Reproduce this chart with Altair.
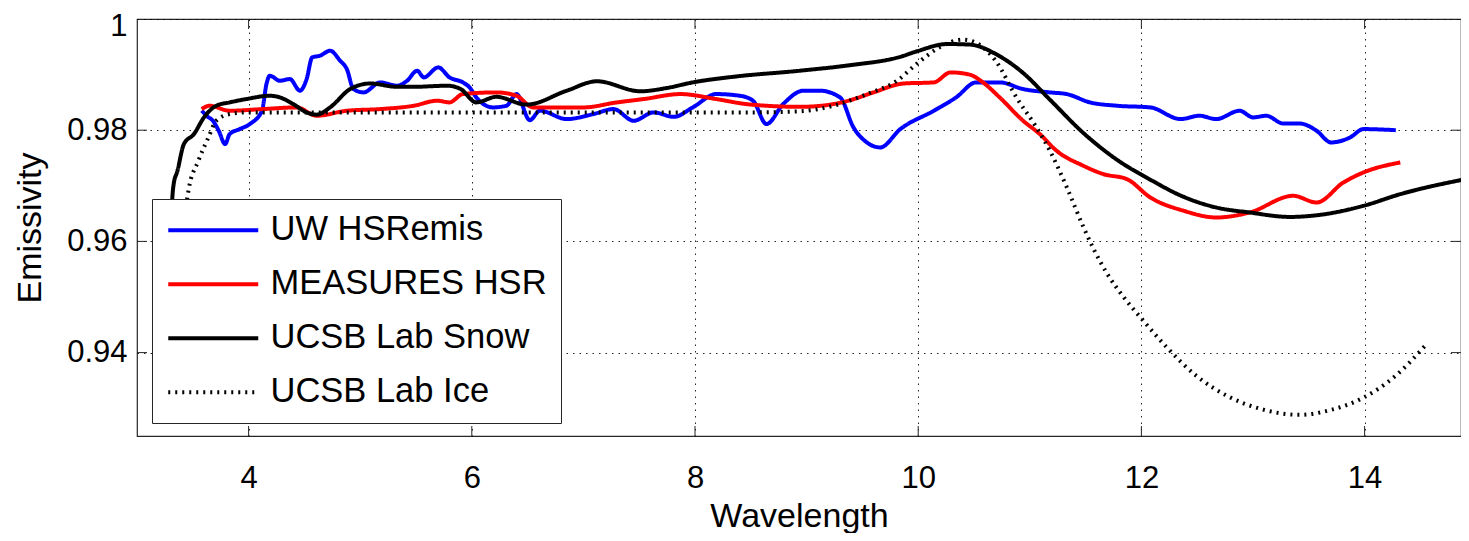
import altair as alt
import pandas as pd

series_names = ["UW HSRemis", "MEASURES HSR", "UCSB Lab Snow", "UCSB Lab Ice"]
series_colors = ["#0000ff", "#ff0000", "#000000", "#000000"]
series_dash = [[1, 0], [1, 0], [1, 0], [2, 5]]

uw_x = [3.58, 3.63, 3.68, 3.73, 3.79, 3.83, 3.92, 4.01, 4.12, 4.16, 4.19, 4.28, 4.37, 4.46, 4.52,
        4.57, 4.64, 4.73, 4.82, 4.88, 4.94, 5.03, 5.18, 5.33, 5.42, 5.51, 5.57, 5.70, 5.80, 5.92,
        5.98, 6.04, 6.19, 6.31, 6.40, 6.52, 6.61, 6.85, 7.09, 7.27, 7.45, 7.63, 7.81, 7.98, 8.19,
        8.40, 8.52, 8.64, 8.79, 8.97, 9.12, 9.30, 9.42, 9.54, 9.66, 9.84, 10.14, 10.34, 10.52,
        10.73, 10.94, 11.18, 11.33, 11.54, 11.78, 12.08, 12.35, 12.52, 12.67, 12.88, 13.00, 13.12,
        13.27, 13.42, 13.57, 13.70, 13.87, 13.99, 14.28]
uw_y = [0.9835, 0.9825, 0.9817, 0.9800, 0.9775, 0.9793, 0.9802, 0.9811, 0.9835, 0.9883, 0.9898,
        0.9889, 0.9892, 0.9871, 0.9892, 0.9931, 0.9934, 0.9943, 0.9925, 0.9910, 0.9874, 0.9868,
        0.9886, 0.9880, 0.9889, 0.9907, 0.9895, 0.9913, 0.9895, 0.9886, 0.9877, 0.9859, 0.9841,
        0.9844, 0.9865, 0.9818, 0.9835, 0.9820, 0.9829, 0.9838, 0.9817, 0.9832, 0.9824, 0.9841,
        0.9865, 0.9862, 0.9853, 0.9811, 0.9847, 0.9871, 0.9871, 0.9859, 0.9805, 0.9778, 0.9769,
        0.9802, 0.9835, 0.9859, 0.9886, 0.9886, 0.9874, 0.9868, 0.9865, 0.9850, 0.9844, 0.9841,
        0.9820, 0.9826, 0.9820, 0.9835, 0.9823, 0.9826, 0.9812, 0.9812, 0.9799, 0.9778, 0.9787,
        0.9802, 0.9800]

mea_x = [3.58, 3.65, 3.83, 4.13, 4.43, 4.61, 4.88, 5.18, 5.48, 5.69, 5.80, 5.92, 6.22, 6.40, 6.55,
         7.00, 7.30, 7.54, 7.87, 8.19, 8.46, 8.64, 8.94, 9.24, 9.39, 9.60, 9.87, 10.14, 10.29,
         10.46, 10.58, 10.73, 10.94, 11.09, 11.24, 11.48, 11.66, 11.87, 12.08, 12.38, 12.67,
         12.97, 13.36, 13.57, 13.81, 13.99, 14.32]
mea_y = [0.9838, 0.9844, 0.9835, 0.9838, 0.9841, 0.9826, 0.9835, 0.9838, 0.9844, 0.9853, 0.9850,
         0.9865, 0.9868, 0.9862, 0.9841, 0.9841, 0.9850, 0.9856, 0.9865, 0.9856, 0.9847, 0.9844,
         0.9842, 0.9847, 0.9854, 0.9868, 0.9884, 0.9886, 0.9904, 0.9900, 0.9886, 0.9859, 0.9817,
         0.9793, 0.9763, 0.9736, 0.9721, 0.9712, 0.9679, 0.9655, 0.9643, 0.9652, 0.9682, 0.9670,
         0.9706, 0.9724, 0.9742]

snow_x = [3.30, 3.31, 3.33, 3.36, 3.42, 3.51, 3.60, 3.71, 3.83, 3.98, 4.19, 4.28, 4.40, 4.52, 4.61,
          4.73, 4.91, 5.09, 5.33, 5.47, 5.78, 5.90, 6.04, 6.22, 6.49, 6.85, 7.12, 7.51, 7.75, 7.98,
          8.34, 8.94, 9.39, 9.84, 9.99, 10.26, 10.46, 10.73, 10.94, 11.18, 11.48, 11.78, 12.08,
          12.38, 12.67, 12.97, 13.33, 13.57, 13.99, 14.32, 14.93]
snow_y = [0.9550, 0.9650, 0.9705, 0.9725, 0.9775, 0.9793, 0.9823, 0.9844, 0.9850, 0.9856, 0.9862,
          0.9859, 0.9847, 0.9832, 0.9828, 0.9841, 0.9874, 0.9884, 0.9878, 0.9878, 0.9880, 0.9874,
          0.9850, 0.9860, 0.9846, 0.9871, 0.9888, 0.9870, 0.9876, 0.9886, 0.9896, 0.9907, 0.9917,
          0.9932, 0.9942, 0.9955, 0.9954, 0.9933, 0.9903, 0.9855, 0.9795, 0.9747, 0.9711, 0.9680,
          0.9661, 0.9652, 0.9644, 0.9647, 0.9664, 0.9685, 0.9713]

ice_x = [3.38, 3.42, 3.46, 3.55, 3.64, 3.71, 3.83, 3.98, 5.0, 6.0, 7.0, 8.0, 8.5, 8.94, 9.24, 9.54,
         9.81, 9.99, 10.20, 10.40, 10.52, 10.70, 10.88, 11.06, 11.18, 11.33, 11.48, 11.57, 11.69,
         11.86, 12.01, 12.22, 12.50, 12.78, 13.10, 13.42, 13.70, 13.98, 14.27, 14.55]
ice_y = [0.9550, 0.9630, 0.9690, 0.9745, 0.9787, 0.9817, 0.9829, 0.9832, 0.9832, 0.9832, 0.9832,
         0.9832, 0.9832, 0.9834, 0.9844, 0.9865, 0.9889, 0.9920, 0.9950, 0.9963, 0.9957, 0.9923,
         0.9859, 0.9805, 0.9763, 0.9698, 0.9626, 0.9587, 0.9543, 0.9495, 0.9459, 0.9411, 0.9357,
         0.9321, 0.9297, 0.9288, 0.9297, 0.9318, 0.9357, 0.9414]

x_ticks = [4, 6, 8, 10, 12, 14]
y_ticks = [0.94, 0.96, 0.98, 1.0]

rows = []
for name, xs, ys in zip(series_names, [uw_x, mea_x, snow_x, ice_x], [uw_y, mea_y, snow_y, ice_y]):
    for i, (a, b) in enumerate(zip(xs, ys)):
        rows.append({"series": name, "wavelength": a, "emissivity": b, "idx": i})
df = pd.DataFrame(rows)

W, H = 1324, 417
FONT = "Liberation Sans"
xscale = alt.Scale(domain=[3, 3 + W / 111.6], nice=False, zero=False)
yscale = alt.Scale(domain=[0.925, 1.0], nice=False, zero=False)

x_axis = alt.Axis(values=x_ticks, title="Wavelength", labelPadding=27,
                  titleY=63, titleBaseline="top")
y_axis = alt.Axis(values=y_ticks, format=".2~f", title="Emissivity",
                  labelPadding=10, titleX=-90, titleBaseline="bottom",
                  labelOffset=alt.condition("datum.value >= 0.999", alt.value(7), alt.value(0)))

legend_kw = dict(
    orient="none", legendX=15, legendY=180, title=None,
    fillColor="white", strokeColor="#262626", padding=14, cornerRadius=0,
    symbolType="M-3,0L3,0", symbolSize=900, symbolStrokeWidth=4, symbolOffset=30,
    labelOffset=40, labelFontSize=34.5, labelFont=FONT, labelColor="black",
    rowPadding=19, labelLimit=0,
)

lines = alt.Chart(df).mark_line(interpolate="monotone", strokeWidth=4, clip=True).encode(
    x=alt.X("wavelength:Q", scale=xscale, axis=x_axis),
    y=alt.Y("emissivity:Q", scale=yscale, axis=y_axis),
    color=alt.Color("series:N", scale=alt.Scale(domain=series_names, range=series_colors),
                    legend=alt.Legend(**legend_kw)),
    strokeDash=alt.StrokeDash("series:N", scale=alt.Scale(domain=series_names, range=series_dash),
                              legend=alt.Legend(**legend_kw)),
    order="idx:Q",
)

xt = pd.DataFrame({"wavelength": x_ticks})
yt = pd.DataFrame({"emissivity": y_ticks[:-1]})
tick_color = "#262626"
bottom_ticks = alt.Chart(xt).mark_rule(color=tick_color, strokeWidth=1).encode(
    x=alt.X("wavelength:Q", scale=xscale, axis=x_axis), y=alt.value(H), y2=alt.value(H - 10))
top_ticks = alt.Chart(xt).mark_rule(color=tick_color, strokeWidth=1).encode(
    x=alt.X("wavelength:Q", scale=xscale, axis=x_axis), y=alt.value(0), y2=alt.value(10))
left_ticks = alt.Chart(yt).mark_rule(color=tick_color, strokeWidth=1).encode(
    y=alt.Y("emissivity:Q", scale=yscale, axis=y_axis), x=alt.value(0), x2=alt.value(10))
right_ticks = alt.Chart(yt).mark_rule(color=tick_color, strokeWidth=1).encode(
    y=alt.Y("emissivity:Q", scale=yscale, axis=y_axis), x=alt.value(W), x2=alt.value(W - 10))

chart = alt.layer(lines, bottom_ticks, top_ticks, left_ticks, right_ticks).properties(
    width=W, height=H,
    autosize=alt.AutoSizeParams(type="none"),
    padding={"left": 129, "top": 11, "right": 0, "bottom": 97},
).configure(font=FONT).configure_view(
    stroke="#262626", strokeWidth=1.2
).configure_axis(
    grid=True, gridColor="#000000", gridDash=[1.5, 5], gridOpacity=0.85, gridWidth=1,
    domain=False, ticks=False, tickSize=0,
    labelFont=FONT, labelFontSize=31, labelColor="black",
    titleFont=FONT, titleFontSize=34, titleFontWeight="normal", titleColor="black",
)

chart.save("out.html", embed_options={"renderer": "svg", "actions": False})
